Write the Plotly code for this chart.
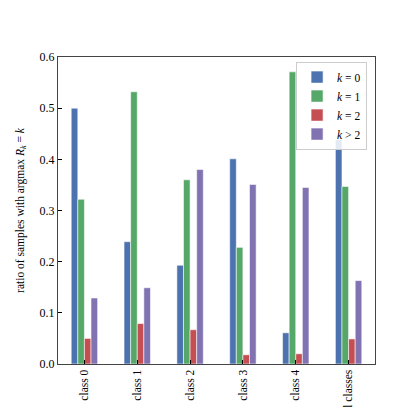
import plotly.graph_objects as go

categories = ["class 0", "class 1", "class 2", "class 3", "class 4", "all classes"]
series_names = ["<i>k</i> = 0", "<i>k</i> = 1", "<i>k</i> = 2", "<i>k</i> > 2"]
k0 = [0.500, 0.239, 0.193, 0.401, 0.061, 0.439]
k1 = [0.322, 0.532, 0.360, 0.228, 0.571, 0.347]
k2 = [0.050, 0.079, 0.067, 0.018, 0.020, 0.049]
kgt2 = [0.129, 0.149, 0.380, 0.351, 0.345, 0.163]
colors = ["#4C72B0", "#55A868", "#C44E52", "#8172B2"]
yticks = [0.0, 0.1, 0.2, 0.3, 0.4, 0.5, 0.6]

FONT = "Liberation Serif"

fig = go.Figure()
for name, vals, col in zip(series_names, [k0, k1, k2, kgt2], colors):
    fig.add_trace(go.Bar(
        x=categories, y=vals, name=name,
        marker=dict(color=col, line=dict(color="rgba(255,255,255,0.7)", width=0.8)),
    ))

fig.update_layout(
    template="none",
    width=407, height=407,
    margin=dict(l=50, r=40, t=49, b=51),
    paper_bgcolor="white", plot_bgcolor="white",
    barmode="group", bargap=0.5, bargroupgap=0,
    font=dict(family=FONT, size=12, color="black"),
    showlegend=True,
    legend=dict(
        x=0.975, y=0.985, xanchor="right", yanchor="top",
        bgcolor="rgba(255,255,255,0.85)", bordercolor="#cccccc", borderwidth=1,
        font=dict(family=FONT, size=11.5), itemwidth=30, tracegroupgap=0,
    ),
    xaxis=dict(
        range=[-0.5, 5.5], tickangle=-90, showline=True, mirror=True,
        linecolor="#444444", linewidth=1.2, ticks="inside", ticklen=4,
        tickcolor="black", showgrid=False, zeroline=False, automargin=False,
        tickfont=dict(family=FONT, size=11.5),
    ),
    yaxis=dict(
        range=[0, 0.6], tickvals=yticks, ticktext=[f"{v:.1f}" for v in yticks],
        showline=True, mirror=True, linecolor="#444444", linewidth=1.2,
        ticks="inside", ticklen=4, tickcolor="black", showgrid=False, zeroline=False,
        automargin=False,
        tickfont=dict(family=FONT, size=12),
        title=dict(text="ratio of samples with argmax <i>R<sub>k</sub></i> = <i>k</i>",
                   font=dict(family=FONT, size=11.5), standoff=12),
    ),
)

fig.write_html("out.html")
